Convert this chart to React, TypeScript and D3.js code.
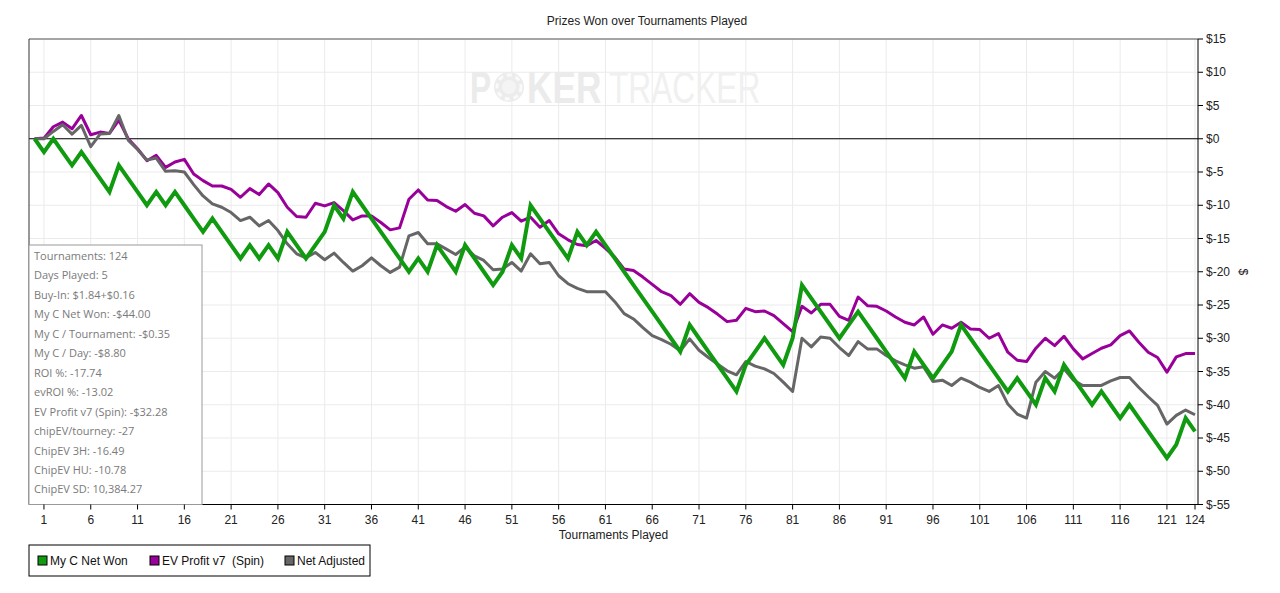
import React from "react";
import * as d3 from "d3";

const tournaments = d3.range(0, 125);

const myCNetWon = [
  0, -2, 0, -2, -4, -2, -4, -6, -8, -4,
  -6, -8, -10, -8, -10, -8, -10, -12, -14, -12,
  -14, -16, -18, -16, -18, -16, -18, -14, -16, -18,
  -16, -14, -10, -12, -8, -10, -12, -14, -16, -18,
  -20, -18, -20, -16, -18, -20, -16, -18, -20, -22,
  -20, -16, -18, -10, -12, -14, -16, -18, -14, -16,
  -14, -16, -18, -20, -22, -24, -26, -28, -30, -32,
  -28, -30, -32, -34, -36, -38, -34, -32, -30, -32,
  -34, -30, -22, -24, -26, -28, -30, -28, -26, -28,
  -30, -32, -34, -36, -32, -34, -36, -34, -32, -28,
  -30, -32, -34, -36, -38, -36, -38, -40, -36, -38,
  -34, -36, -38, -40, -38, -40, -42, -40, -42, -44,
  -46, -48, -46, -42, -44,
];

const evProfit = [
  0, 0.1, 1.8, 2.5, 1.5, 3.5, 0.6, 1.0, 0.8, 2.8,
  0, -1.5, -3.3, -2.5, -4.3, -3.5, -3.1, -5.3, -6.3, -7.1,
  -7.1, -7.6, -8.8, -7.5, -8.4, -6.8, -8.1, -10.3, -11.7, -11.8,
  -9.7, -10.1, -9.6, -10.8, -12.2, -11.6, -11.6, -12.6, -13.7, -13.4,
  -9.1, -7.7, -9.2, -9.3, -10.2, -10.9, -9.9, -11.2, -11.6, -13.1,
  -11.8, -11.1, -12.4, -11.8, -13.3, -12.3, -14.3, -15.2, -15.9, -16.1,
  -15.3, -16.5, -17.8, -19.6, -19.8, -20.8, -21.9, -23.0, -23.6, -24.9,
  -23.3, -24.6, -25.4, -26.4, -27.5, -27.3, -25.5, -26.0, -25.9, -26.6,
  -27.8, -29.0, -25.2, -26.2, -24.9, -24.9, -26.7, -27.3, -23.8, -25.1,
  -25.2, -25.9, -26.8, -27.6, -28.0, -26.8, -29.4, -28.0, -28.5, -27.6,
  -28.6, -28.7, -30.0, -29.3, -32.1, -33.3, -33.5, -31.5, -30.0, -31.1,
  -29.7, -31.6, -33.1, -32.3, -31.5, -31.0, -29.6, -28.9, -30.6, -32.1,
  -32.9, -35.1, -32.8, -32.3, -32.28,
];

const netAdjusted = [
  0, 0, 1.1, 2.1, 0.7, 2.0, -1.2, 0.7, 0.8, 3.5,
  -0.2, -1.6, -3.2, -2.9, -4.9, -4.8, -5.0, -6.9, -8.6, -9.8,
  -10.3, -11.1, -12.3, -11.8, -13.1, -12.3, -13.8, -15.8, -17.3, -17.9,
  -17.1, -18.2, -17.2, -18.6, -19.9, -19.1, -17.9, -19.1, -20.1, -19.3,
  -14.6, -14.1, -15.8, -15.8, -16.6, -17.4, -16.3, -17.6, -18.3, -19.7,
  -19.6, -18.6, -19.9, -17.3, -18.8, -18.6, -20.6, -21.8, -22.5, -23.0,
  -23.0, -23.0, -24.5, -26.3, -27.1, -28.4, -29.6, -30.2, -30.9, -31.9,
  -30.1, -31.8, -32.9, -33.9, -34.9, -35.5, -33.5, -34.2, -34.6, -35.3,
  -36.6, -38.0, -30.0, -31.3, -29.8, -30.0, -31.4, -32.6, -30.5, -31.6,
  -31.6, -32.6, -33.4, -34.0, -34.5, -34.3, -36.5, -36.3, -37.1, -36.0,
  -36.6, -37.4, -38.0, -37.1, -39.9, -41.4, -42.0, -36.6, -35.0, -36.0,
  -34.6, -36.3, -37.1, -37.1, -37.1, -36.4, -35.9, -35.9, -37.4, -38.8,
  -40.1, -42.9, -41.6, -40.8, -41.5,
];

const xTicks = [1, 6, 11, 16, 21, 26, 31, 36, 41, 46, 51, 56, 61, 66, 71, 76, 81, 86, 91, 96, 101, 106, 111, 116, 121, 124];
const yTicks = [15, 10, 5, 0, -5, -10, -15, -20, -25, -30, -35, -40, -45, -50, -55];

const statLines = [
  "Tournaments: 124",
  "Days Played: 5",
  "Buy-In: $1.84+$0.16",
  "My C Net Won: -$44.00",
  "My C / Tournament: -$0.35",
  "My C / Day: -$8.80",
  "ROI %: -17.74",
  "evROI %: -13.02",
  "EV Profit v7 (Spin): -$32.28",
  "chipEV/tourney: -27",
  "ChipEV 3H: -16.49",
  "ChipEV HU: -10.78",
  "ChipEV SD: 10,384.27",
];

const seriesNames = ["My C Net Won", "EV Profit v7  (Spin)", "Net Adjusted"];
const seriesColors = ["#109a10", "#990099", "#666666"];

const W = 1280;
const H = 593;
const L = 29;
const R = 1198;
const T = 39;
const B = 504.5;

export default function App() {
  const x = d3.scaleLinear().domain([0, 124]).range([34.6, 1195]);
  const y = d3.scaleLinear().domain([-55, 15]).range([B, T]);
  const line = d3
    .line<number>()
    .x((_, i) => x(tournaments[i]))
    .y((d) => y(d));

  const font = "'Liberation Sans', Arial, sans-serif";
  const legendX = [38, 150, 285];

  return (
    <svg
      width={W}
      height={H}
      style={{ position: "absolute", left: 0, top: 0, background: "#fff" }}
      fontFamily={font}
    >
      <rect x={0} y={0} width={W} height={H} fill="#fff" />
      <text x={647} y={25} textAnchor="middle" fontSize={12} fill="#222">
        Prizes Won over Tournaments Played
      </text>

      {/* gridlines */}
      <g stroke="#ebebeb" strokeWidth={1}>
        {xTicks.map((t) => (
          <line key={"gx" + t} x1={x(t)} x2={x(t)} y1={T} y2={B} />
        ))}
        {yTicks.map((v) => (
          <line key={"gy" + v} x1={L} x2={R} y1={y(v)} y2={y(v)} />
        ))}
      </g>

      {/* watermark */}
      <circle cx={509} cy={87} r={15} fill="#ececec" />
      <circle cx={509} cy={87} r={12} fill="none" stroke="#fafafa" strokeWidth={3} strokeDasharray="5 4" />
      <circle cx={509} cy={87} r={7} fill="#f4f4f4" />
      <g transform="translate(470,103) scale(0.72,1)">
        <text x={0} y={0} fontSize={44} fontWeight="bold" fill="#ebebeb">P</text>
      </g>
      <g transform="translate(527,103) scale(0.8,1)">
        <text x={0} y={0} fontSize={44} fontWeight="bold" fill="#ebebeb">KER</text>
      </g>
      <g transform="translate(609,103) scale(0.72,1)">
        <text x={0} y={0} fontSize={44} fill="#f0f0f0">TRACKER</text>
      </g>

      {/* zero line */}
      <line x1={L} x2={R} y1={y(0)} y2={y(0)} stroke="#000" strokeWidth={1} />

      {/* series */}
      <path d={line(evProfit) || ""} fill="none" stroke={seriesColors[1]} strokeWidth={3} strokeLinejoin="round" />
      <path d={line(netAdjusted) || ""} fill="none" stroke={seriesColors[2]} strokeWidth={3} strokeLinejoin="round" />
      <path d={line(myCNetWon) || ""} fill="none" stroke={seriesColors[0]} strokeWidth={4} strokeLinejoin="miter" />

      {/* frame */}
      <line x1={L} x2={R} y1={T} y2={T} stroke="#555" strokeWidth={1} />
      <line x1={L} x2={L} y1={T} y2={B} stroke="#333" strokeWidth={1} />
      <line x1={R} x2={R} y1={T} y2={B} stroke="#000" strokeWidth={1} />
      <line x1={L} x2={R} y1={B} y2={B} stroke="#000" strokeWidth={1} />

      {/* stats box */}
      <rect x={L} y={245} width={173} height={B - 245} fill="#fff" stroke="#999" strokeWidth={1} />
      <g fontFamily="'Open Sans', 'Noto Sans', sans-serif" fontSize={11} fill="#7a7a7a">
        {statLines.map((s, i) => (
          <text key={s} x={34} y={260 + i * 19.45}>
            {s}
          </text>
        ))}
      </g>

      {/* right axis */}
      <g fontSize={12} fill="#222">
        {yTicks.map((v) => (
          <g key={"yt" + v}>
            <line x1={R} x2={R + 5} y1={y(v)} y2={y(v)} stroke="#000" />
            <text x={R + 8} y={y(v) + 4}>{"$" + v}</text>
          </g>
        ))}
      </g>
      <text transform={`translate(1239,${(T + B) / 2}) rotate(90)`} textAnchor="middle" fontSize={12} fill="#222">
        $
      </text>

      {/* bottom axis */}
      <g fontSize={12} fill="#222">
        {xTicks.map((t) => (
          <g key={"xt" + t}>
            <line x1={x(t)} x2={x(t)} y1={B} y2={B + 5} stroke="#000" />
            <text x={x(t)} y={B + 19} textAnchor="middle">
              {t}
            </text>
          </g>
        ))}
      </g>
      <text x={(L + R) / 2} y={539} textAnchor="middle" fontSize={12} fill="#222">
        Tournaments Played
      </text>

      {/* legend */}
      <rect x={L} y={545} width={341} height={31} fill="#fff" stroke="#000" strokeWidth={1} />
      {seriesNames.map((n, i) => (
        <g key={n}>
          <rect x={legendX[i]} y={556} width={9} height={9} fill={seriesColors[i]} stroke="#000" strokeWidth={1} />
          <text x={legendX[i] + 12} y={565} fontSize={12} fill="#111" style={{ whiteSpace: "pre" }}>
            {n}
          </text>
        </g>
      ))}
    </svg>
  );
}
